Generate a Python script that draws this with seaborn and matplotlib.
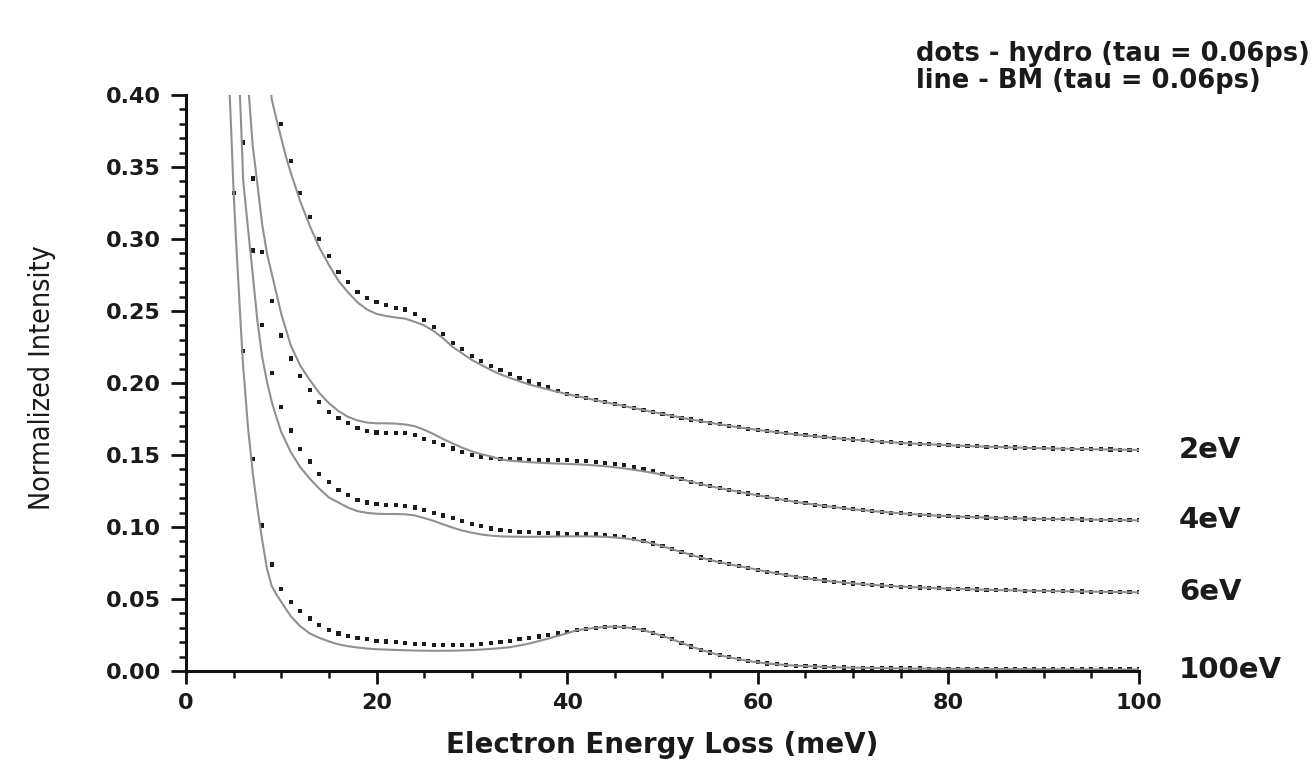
import numpy as np
import pandas as pd
import seaborn as sns
import matplotlib.pyplot as plt
from matplotlib.ticker import MultipleLocator, FormatStrFormatter

# hydro model (dots), one dot per meV, ending at 100 meV
dots_2ev = [
    0.380, 0.354, 0.332, 0.315, 0.300, 0.288, 0.277, 0.270, 0.263, 0.259,
    0.256, 0.254, 0.252, 0.251, 0.248, 0.244, 0.239, 0.234, 0.228, 0.2235,
    0.219, 0.2155, 0.212, 0.209, 0.206, 0.2035, 0.201, 0.199, 0.197, 0.1945,
    0.1925, 0.1909, 0.1894, 0.188, 0.1866, 0.1853, 0.184, 0.1826, 0.1812, 0.1798,
    0.1785, 0.1772, 0.1759, 0.1746, 0.1735, 0.1724, 0.1713, 0.1702, 0.1692, 0.1683,
    0.1674, 0.1666, 0.1658, 0.165, 0.1643, 0.1636, 0.163, 0.1624, 0.1618, 0.1612,
    0.1607, 0.1602, 0.1597, 0.1592, 0.1588, 0.1584, 0.158, 0.1577, 0.1574, 0.1571,
    0.1568, 0.1565, 0.1562, 0.156, 0.1558, 0.1556, 0.1554, 0.1552, 0.155, 0.1548,
    0.1547, 0.1545, 0.1544, 0.1542, 0.1541, 0.154, 0.1539, 0.1538, 0.1537, 0.1536,
    0.1535,
]
dots_4ev = [
    0.342, 0.291, 0.257, 0.233, 0.217, 0.205, 0.195, 0.187, 0.180, 0.1755,
    0.172, 0.169, 0.1667, 0.1656, 0.165, 0.165, 0.165, 0.164, 0.161, 0.159,
    0.157, 0.1545, 0.152, 0.150, 0.149, 0.148, 0.1475, 0.147, 0.147, 0.1468,
    0.1466, 0.1465, 0.1465, 0.1465, 0.146, 0.1457, 0.1454, 0.1447, 0.144, 0.143,
    0.1418, 0.1403, 0.1386, 0.1368, 0.135, 0.1332, 0.1315, 0.1298, 0.1283, 0.127,
    0.1257, 0.1245, 0.1232, 0.122, 0.1208, 0.1196, 0.1185, 0.1174, 0.1164, 0.1155,
    0.1146, 0.1138, 0.113, 0.1123, 0.1117, 0.1111, 0.1105, 0.11, 0.1095, 0.109,
    0.1086, 0.1082, 0.1078, 0.1075, 0.1072, 0.107, 0.1068, 0.1066, 0.1064, 0.1062,
    0.1060, 0.1059, 0.1057, 0.1056, 0.1055, 0.1054, 0.1053, 0.1052, 0.1051, 0.1050,
    0.1049, 0.1048, 0.1047, 0.1046,
]
dots_6ev = [
    0.367, 0.292, 0.240, 0.207, 0.1835, 0.167, 0.154, 0.1455, 0.137, 0.131,
    0.1257, 0.122, 0.1187, 0.117, 0.116, 0.1155, 0.115, 0.1146, 0.1135, 0.112,
    0.1095, 0.108, 0.106, 0.104, 0.102, 0.1005, 0.099, 0.098, 0.0972, 0.0968,
    0.0964, 0.096, 0.0957, 0.0955, 0.0954, 0.0953, 0.0952, 0.095, 0.0945, 0.0938,
    0.0928, 0.0917, 0.0903, 0.0885, 0.0866, 0.0846, 0.0826, 0.0806, 0.0788, 0.0771,
    0.0755, 0.0741, 0.0728, 0.0716, 0.0702, 0.069, 0.0678, 0.0666, 0.0655, 0.0645,
    0.0636, 0.0628, 0.062, 0.0614, 0.0608, 0.0603, 0.0598, 0.0594, 0.059, 0.0586,
    0.0583, 0.058, 0.0577, 0.0574, 0.0572, 0.057, 0.0568, 0.0566, 0.0564, 0.0562,
    0.0561, 0.0560, 0.0558, 0.0557, 0.0556, 0.0555, 0.0554, 0.0553, 0.0552, 0.0551,
    0.0550, 0.0549, 0.0548, 0.0547, 0.0546,
]
dots_100ev = [
    0.332, 0.222, 0.147, 0.101, 0.074, 0.057, 0.048, 0.0415, 0.0365, 0.032,
    0.0285, 0.026, 0.0245, 0.023, 0.022, 0.021, 0.0205, 0.0202, 0.0195, 0.019,
    0.0185, 0.018, 0.018, 0.018, 0.018, 0.0182, 0.0187, 0.0193, 0.0200, 0.021,
    0.022, 0.0228, 0.024, 0.025, 0.026, 0.0272, 0.0283, 0.0292, 0.030, 0.0306,
    0.0308, 0.0304, 0.0296, 0.0283, 0.0265, 0.0243, 0.022, 0.0195, 0.0170, 0.0148,
    0.0128, 0.0110, 0.0095, 0.0082, 0.0070, 0.0060, 0.0052, 0.0046, 0.0041, 0.0037,
    0.0034, 0.0031, 0.0028, 0.0026, 0.0024, 0.0023, 0.0022, 0.0021, 0.0020, 0.0019,
    0.0018, 0.0017, 0.0017, 0.0016, 0.0016, 0.0015, 0.0015, 0.0015, 0.0014, 0.0014,
    0.0014, 0.0013, 0.0013, 0.0013, 0.0012, 0.0012, 0.0012, 0.0012, 0.0011, 0.0011,
    0.0011, 0.0011, 0.0010, 0.0010, 0.0010, 0.0010,
]

# BM model (lines), low-energy part; past the last point it follows the dots
line_x_2ev = [8.8, 9.0, 9.5, 10, 10.5, 11, 11.5, 12, 13, 14, 15, 16, 17, 18, 19,
              20, 21, 22, 23, 24, 25, 26, 27, 28, 29, 30, 31, 32, 33, 34, 36, 38,
              40, 42, 44]
line_2ev = [0.41, 0.397, 0.383, 0.370, 0.357, 0.346, 0.336, 0.326, 0.309, 0.294,
            0.282, 0.271, 0.263, 0.256, 0.251, 0.248, 0.2465, 0.2455, 0.2447,
            0.2425, 0.240, 0.236, 0.231, 0.225, 0.2205, 0.216, 0.2125, 0.209,
            0.206, 0.2035, 0.199, 0.1955, 0.1922, 0.1895, 0.1866]
line_x_4ev = [6.5, 7.0, 7.5, 8.0, 8.5, 9.0, 9.5, 10, 11, 12, 13, 14, 15, 16, 17,
              18, 19, 20, 21, 22, 23, 24, 25, 26, 27, 28, 29, 30, 31, 32, 33, 34,
              36, 38, 40, 42, 44, 46, 48, 50]
line_4ev = [0.41, 0.365, 0.338, 0.31, 0.29, 0.276, 0.262, 0.248, 0.226, 0.212,
            0.202, 0.193, 0.186, 0.1805, 0.1765, 0.174, 0.1725, 0.172, 0.172,
            0.1718, 0.1712, 0.170, 0.1675, 0.1645, 0.161, 0.158, 0.155, 0.1525,
            0.1505, 0.149, 0.147, 0.146, 0.145, 0.1443, 0.1438, 0.1432, 0.1422,
            0.1407, 0.1387, 0.1364]
line_x_6ev = [5.6, 5.8, 6.0, 6.5, 7.0, 7.5, 8.0, 8.5, 9.0, 9.5, 10, 11, 12, 13,
              14, 15, 16, 17, 18, 19, 20, 21, 22, 23, 24, 25, 26, 27, 28, 29, 30,
              31, 32, 33, 34, 36, 38, 40, 42, 44, 46, 48]
line_6ev = [0.41, 0.378, 0.341, 0.308, 0.276, 0.243, 0.218, 0.201, 0.187, 0.176,
            0.166, 0.152, 0.1415, 0.1335, 0.1265, 0.1205, 0.117, 0.1135, 0.111,
            0.1098, 0.1092, 0.109, 0.109, 0.1088, 0.108, 0.1062, 0.1042, 0.1018,
            0.0995, 0.0975, 0.096, 0.0948, 0.094, 0.0935, 0.0933, 0.0932, 0.0933,
            0.0935, 0.0935, 0.0932, 0.0922, 0.0900]
line_x_100ev = [4.5, 4.75, 5.0, 5.25, 5.5, 5.75, 6.0, 6.5, 7.0, 7.5, 8.0, 8.5,
                9.0, 9.5, 10, 11, 12, 13, 14, 15, 16, 17, 18, 19, 20, 22, 24, 26,
                28, 30, 32, 34, 36, 38, 40]
line_100ev = [0.415, 0.375, 0.333, 0.300, 0.270, 0.240, 0.212, 0.170, 0.138,
              0.113, 0.091, 0.071, 0.059, 0.053, 0.048, 0.038, 0.031, 0.026,
              0.023, 0.0205, 0.0185, 0.0172, 0.0163, 0.0156, 0.0151, 0.0146,
              0.0142, 0.014, 0.0141, 0.0145, 0.0153, 0.0165, 0.019, 0.0225, 0.0262]

labels = ["2eV", "4eV", "6eV", "100eV"]
all_dots = [dots_2ev, dots_4ev, dots_6ev, dots_100ev]
all_line_x = [line_x_2ev, line_x_4ev, line_x_6ev, line_x_100ev]
all_lines = [line_2ev, line_4ev, line_6ev, line_100ev]

dot_rows = []
line_rows = []
for name, dots, lx, ly in zip(labels, all_dots, all_line_x, all_lines):
    dx = np.arange(101 - len(dots), 101)
    for x, y in zip(dx, dots):
        dot_rows.append({"energy": x, "intensity": y, "curve": name})
    for x, y in zip(lx, ly):
        line_rows.append({"energy": x, "intensity": y, "curve": name})
    for x, y in zip(dx, dots):
        if x > lx[-1]:
            line_rows.append({"energy": x, "intensity": y, "curve": name})

df_dots = pd.DataFrame(dot_rows)
df_lines = pd.DataFrame(line_rows)

sns.set_style("ticks")
plt.rcParams["font.family"] = ["DejaVu Sans"]

fig = plt.figure(figsize=(13.15, 7.63), dpi=100)
ax = fig.add_axes([0.1414, 0.1206, 0.7248, 0.7549])

sns.lineplot(data=df_lines, x="energy", y="intensity", units="curve",
             estimator=None, sort=True, color="#909090", linewidth=1.5, ax=ax)
sns.scatterplot(data=df_dots, x="energy", y="intensity", marker="s", s=9,
                color="#1c1c1c", edgecolor="none", ax=ax)

ax.set_xlim(0, 100)
ax.set_ylim(0, 0.40)
ax.xaxis.set_major_locator(MultipleLocator(20))
ax.xaxis.set_minor_locator(MultipleLocator(5))
ax.yaxis.set_major_locator(MultipleLocator(0.05))
ax.yaxis.set_minor_locator(MultipleLocator(0.01))
ax.yaxis.set_major_formatter(FormatStrFormatter("%.2f"))
ax.tick_params(axis="both", which="major", direction="out", width=2,
               color="#111111", labelsize=16, pad=7)
ax.tick_params(axis="y", which="major", length=11)
ax.tick_params(axis="x", which="major", length=9)
ax.tick_params(axis="both", which="minor", direction="out", width=1.8,
               color="#111111", length=5)
for lab in ax.get_xticklabels() + ax.get_yticklabels():
    lab.set_fontweight("bold")
    lab.set_color("#1a1a1a")

sns.despine(ax=ax)
for side in ["left", "bottom"]:
    ax.spines[side].set_linewidth(2.2)
    ax.spines[side].set_color("#111111")

ax.set_xlabel("Electron Energy Loss (meV)", fontsize=20, fontweight="bold",
              color="#1a1a1a", labelpad=13)
ax.set_ylabel("Normalized Intensity", fontsize=20.5, fontstretch="condensed",
              fontweight="medium", color="#1a1a1a")
ax.yaxis.set_label_coords(-0.136, 0.51)

for name, dots in zip(labels, all_dots):
    ax.text(104.2, dots[-1], name, fontsize=21, fontweight="bold",
            color="#1a1a1a", va="center", ha="left", clip_on=False)

fig.text(0.6965, 0.929, "dots - hydro (tau = 0.06ps)", fontsize=18.5,
         fontweight="bold", color="#1a1a1a", va="center", ha="left")
fig.text(0.6965, 0.894, "line - BM (tau = 0.06ps)", fontsize=18.5,
         fontweight="bold", color="#1a1a1a", va="center", ha="left")

fig.savefig("out.png", dpi=100)
